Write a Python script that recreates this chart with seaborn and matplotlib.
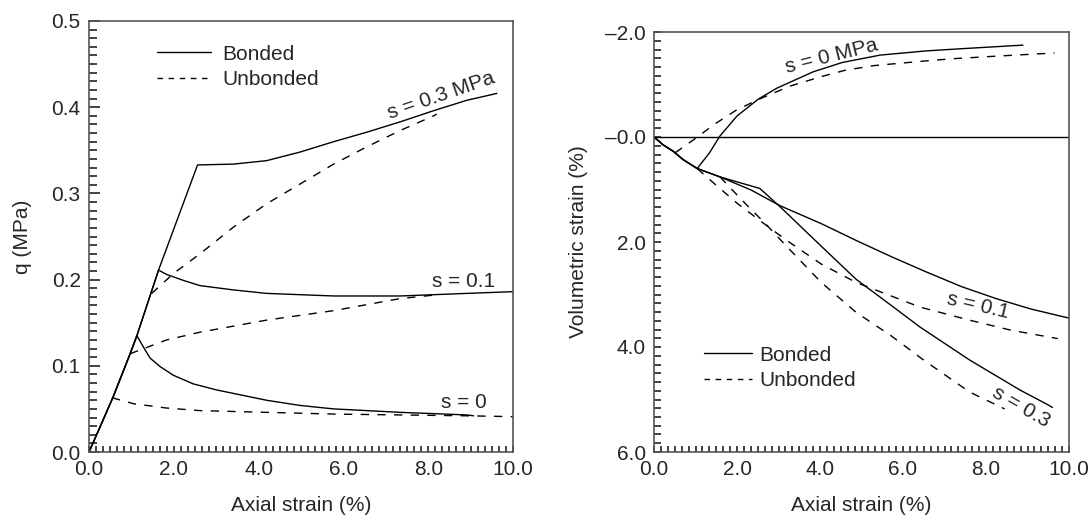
import matplotlib
matplotlib.use('Agg')
import matplotlib.pyplot as plt
from matplotlib.lines import Line2D
from matplotlib.ticker import MultipleLocator
import seaborn as sns

# Left panel: deviator stress q (MPa) vs axial strain (%)
q_bonded_03_x = [0, 0.26, 0.57, 0.97, 1.13, 1.64, 2.56, 3.41, 4.19, 4.98, 5.77, 6.55, 7.34, 8.13, 8.91, 9.62]
q_bonded_03_y = [0, 0.029, 0.064, 0.114, 0.135, 0.211, 0.333, 0.334, 0.338, 0.348, 0.360, 0.371, 0.383, 0.396, 0.408, 0.416]
q_bonded_01_x = [0, 0.26, 0.57, 0.97, 1.13, 1.64, 1.83, 2.23, 2.62, 3.41, 4.19, 5.77, 7.34, 8.91, 10.0]
q_bonded_01_y = [0, 0.029, 0.064, 0.114, 0.135, 0.211, 0.206, 0.199, 0.193, 0.188, 0.184, 0.181, 0.181, 0.184, 0.186]
q_bonded_0_x = [0, 0.26, 0.57, 0.97, 1.13, 1.28, 1.44, 1.68, 1.99, 2.46, 3.01, 3.6, 4.19, 4.98, 5.77, 7.34, 8.91, 9.07]
q_bonded_0_y = [0, 0.029, 0.064, 0.114, 0.135, 0.122, 0.109, 0.099, 0.089, 0.079, 0.072, 0.066, 0.060, 0.054, 0.050, 0.046, 0.043, 0.042]
q_unbonded_03_x = [1.48, 1.99, 2.62, 3.41, 4.19, 4.98, 5.77, 6.55, 7.34, 8.13, 8.2]
q_unbonded_03_y = [0.184, 0.207, 0.230, 0.261, 0.288, 0.311, 0.334, 0.354, 0.373, 0.390, 0.392]
q_unbonded_01_x = [0.97, 1.83, 2.62, 4.19, 5.77, 7.34, 8.13]
q_unbonded_01_y = [0.114, 0.130, 0.139, 0.153, 0.164, 0.178, 0.182]
q_unbonded_0_x = [0.54, 1.05, 1.83, 2.62, 4.19, 5.77, 7.34, 8.91, 10.0]
q_unbonded_0_y = [0.063, 0.056, 0.051, 0.048, 0.046, 0.044, 0.043, 0.042, 0.041]

# Right panel: volumetric strain (%) vs axial strain (%)
v_bonded_0_x = [0, 0.22, 0.46, 0.70, 1.04, 1.33, 1.59, 2.0, 2.51, 2.96, 3.83, 4.54, 5.45, 6.56, 7.37, 8.89]
v_bonded_0_y = [0, 0.15, 0.27, 0.43, 0.60, 0.31, -0.02, -0.40, -0.72, -0.93, -1.24, -1.42, -1.56, -1.64, -1.68, -1.75]
v_bonded_01_x = [0, 0.22, 0.46, 0.70, 1.04, 1.59, 2.34, 3.04, 4.03, 4.87, 5.72, 6.56, 7.41, 8.25, 9.10, 10.0]
v_bonded_01_y = [0, 0.15, 0.27, 0.43, 0.60, 0.76, 1.01, 1.31, 1.65, 1.97, 2.28, 2.57, 2.85, 3.08, 3.28, 3.45]
v_bonded_03_x = [0, 0.22, 0.46, 0.70, 1.04, 1.59, 2.55, 3.04, 4.03, 4.87, 5.72, 6.41, 7.61, 8.82, 9.49, 9.6]
v_bonded_03_y = [0, 0.15, 0.27, 0.43, 0.60, 0.76, 0.98, 1.33, 2.08, 2.71, 3.21, 3.62, 4.25, 4.82, 5.10, 5.15]
v_unbonded_0_x = [0.51, 0.94, 1.49, 2.0, 2.59, 3.28, 4.03, 4.6, 5.30, 6.56, 7.18, 8.25, 9.65]
v_unbonded_0_y = [0.30, 0.06, -0.26, -0.52, -0.74, -0.97, -1.15, -1.27, -1.36, -1.45, -1.49, -1.54, -1.60]
v_unbonded_01_x = [1.04, 1.5, 2.0, 2.6, 3.18, 4.03, 4.87, 5.72, 6.41, 7.61, 8.6, 9.73]
v_unbonded_01_y = [0.60, 0.92, 1.26, 1.62, 1.96, 2.42, 2.77, 3.03, 3.24, 3.49, 3.68, 3.84]
v_unbonded_03_x = [1.59, 1.9, 2.24, 2.72, 3.18, 4.03, 4.87, 5.72, 6.5, 7.61, 8.45]
v_unbonded_03_y = [0.76, 1.02, 1.30, 1.68, 2.07, 2.77, 3.34, 3.79, 4.25, 4.86, 5.18]

x_ticks = [0, 2, 4, 6, 8, 10]
x_tick_labels = ['0.0', '2.0', '4.0', '6.0', '8.0', '10.0']
q_ticks = [0, 0.1, 0.2, 0.3, 0.4, 0.5]
q_tick_labels = ['0.0', '0.1', '0.2', '0.3', '0.4', '0.5']
v_ticks = [-2, 0, 2, 4, 6]
v_tick_labels = ['\u20132.0', '\u20130.0', '2.0', '4.0', '6.0']

sns.set_style('ticks')
plt.rcParams['font.family'] = ['Liberation Sans', 'DejaVu Sans']

fig = plt.figure(figsize=(10.9, 5.21), dpi=100)
ax1 = fig.add_axes([89 / 1090, 69 / 521, 424 / 1090, 431 / 521])
ax2 = fig.add_axes([654 / 1090, 69 / 521, 415 / 1090, 420 / 521])

dash = (0, (6, 6))
lw = 1.0

# left panel curves
for xs, ys in [(q_bonded_03_x, q_bonded_03_y), (q_bonded_01_x, q_bonded_01_y), (q_bonded_0_x, q_bonded_0_y)]:
    sns.lineplot(x=xs, y=ys, ax=ax1, color='black', lw=lw, sort=False, estimator=None)
for xs, ys in [(q_unbonded_03_x, q_unbonded_03_y), (q_unbonded_01_x, q_unbonded_01_y), (q_unbonded_0_x, q_unbonded_0_y)]:
    sns.lineplot(x=xs, y=ys, ax=ax1, color='black', lw=lw, linestyle=dash, sort=False, estimator=None)

# right panel curves
ax2.axhline(0, color='black', lw=lw)
for xs, ys in [(v_bonded_0_x, v_bonded_0_y), (v_bonded_01_x, v_bonded_01_y), (v_bonded_03_x, v_bonded_03_y)]:
    sns.lineplot(x=xs, y=ys, ax=ax2, color='black', lw=lw, sort=False, estimator=None)
for xs, ys in [(v_unbonded_0_x, v_unbonded_0_y), (v_unbonded_01_x, v_unbonded_01_y), (v_unbonded_03_x, v_unbonded_03_y)]:
    sns.lineplot(x=xs, y=ys, ax=ax2, color='black', lw=lw, linestyle=dash, sort=False, estimator=None)

fs = 15
tick_col = '#333333'

# axes setup
ax1.set_xlim(0, 10)
ax1.set_ylim(0, 0.5)
ax1.set_xticks(x_ticks)
ax1.set_xticklabels(x_tick_labels)
ax1.set_yticks(q_ticks)
ax1.set_yticklabels(q_tick_labels)
ax1.xaxis.set_minor_locator(MultipleLocator(10 / 60))
ax1.yaxis.set_minor_locator(MultipleLocator(0.01))
ax1.tick_params(axis='x', which='both', direction='in', length=4.5, width=1.3, pad=6,
                labelsize=fs, color=tick_col)
ax1.tick_params(axis='y', which='major', direction='in', length=8, width=1.3, pad=6,
                labelsize=fs, color=tick_col)
ax1.tick_params(axis='y', which='minor', direction='in', length=5.5, width=1.3, color=tick_col)
ax1.set_xlabel('Axial strain (%)', fontsize=fs, labelpad=12)
ax1.set_ylabel('q (MPa)', fontsize=fs, labelpad=14)

ax2.set_xlim(0, 10)
ax2.set_ylim(6, -2)
ax2.set_xticks(x_ticks)
ax2.set_xticklabels(x_tick_labels)
ax2.set_yticks(v_ticks)
ax2.set_yticklabels(v_tick_labels)
ax2.xaxis.set_minor_locator(MultipleLocator(10 / 60))
ax2.yaxis.set_minor_locator(MultipleLocator(1 / 6))
ax2.tick_params(axis='x', which='both', direction='in', length=4.5, width=1.3, pad=6,
                labelsize=fs, color=tick_col)
ax2.tick_params(axis='y', which='both', direction='in', length=5, width=1.3, pad=6,
                labelsize=fs, color=tick_col)
ax2.set_xlabel('Axial strain (%)', fontsize=fs, labelpad=12)
ax2.set_ylabel('Volumetric strain (%)', fontsize=fs, labelpad=12)

for ax in (ax1, ax2):
    for sp in ax.spines.values():
        sp.set_color('#555555')
        sp.set_linewidth(1.2)

# curve labels
ax1.text(8.3, 0.413, 's = 0.3 MPa', fontsize=fs, rotation=19, ha='center', va='center', rotation_mode='anchor')
ax1.text(8.84, 0.198, 's = 0.1', fontsize=fs, ha='center', va='center')
ax1.text(8.83, 0.058, 's = 0', fontsize=fs, ha='center', va='center')
ax2.text(4.29, -1.54, 's = 0 MPa', fontsize=fs, rotation=14, ha='center', va='center', rotation_mode='anchor')
ax2.text(7.81, 3.22, 's = 0.1', fontsize=fs, rotation=-13, ha='center', va='center', rotation_mode='anchor')
ax2.text(8.85, 5.14, 's = 0.3', fontsize=fs, rotation=-30, ha='center', va='center', rotation_mode='anchor')

# legends
handles = [Line2D([], [], color='black', lw=lw),
           Line2D([], [], color='black', lw=lw, linestyle=(0, (4, 4)))]
ax1.legend(handles, ['Bonded', 'Unbonded'], loc='upper left', bbox_to_anchor=(0.16, 0.945),
           frameon=False, fontsize=fs, handlelength=2.6, handletextpad=0.55, labelspacing=0.3,
           borderpad=0, borderaxespad=0)
ax2.legend(handles, ['Bonded', 'Unbonded'], loc='upper left', bbox_to_anchor=(0.12, 0.253),
           frameon=False, fontsize=fs, handlelength=2.3, handletextpad=0.35, labelspacing=0.3,
           borderpad=0, borderaxespad=0)

plt.savefig('out.png', dpi=100)
